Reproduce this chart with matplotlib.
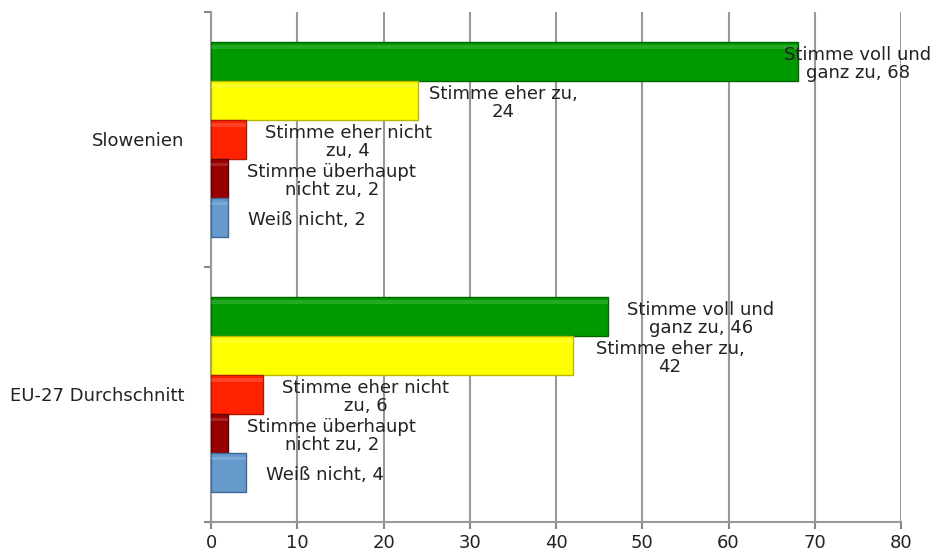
import matplotlib.pyplot as plt
import numpy as np

# data
groups = ["Slowenien", "EU-27 Durchschnitt"]
answers = ["Stimme voll und\nganz zu", "Stimme eher zu,\n", "Stimme eher nicht\nzu", "Stimme überhaupt\nnicht zu", "Weiß nicht"]
slowenien = [68, 24, 4, 2, 2]
eu27 = [46, 42, 6, 2, 4]
colors = ["#009a00", "#ffff00", "#ff2200", "#990000", "#6699cc"]
edges = ["#006600", "#b8b800", "#b31800", "#660000", "#3d6a99"]

# label centre x (data units), as placed in the original
label_x = [[75.0, 33.9, 15.9, 14.0, 11.1],
           [56.8, 53.2, 17.9, 14.0, 13.2]]


def label_text(i, v):
    if i == 1:
        return "Stimme eher zu,\n%d" % v
    if i == 4:
        return "Weiß nicht, %d" % v
    return "%s, %d" % (answers[i], v)


fig = plt.figure(figsize=(9.38, 5.53), dpi=100)
ax = fig.add_axes([0.225, 0.0561, 0.7356, 0.9222])

h = 0.153
values = [slowenien, eu27]
for g, vals in enumerate(values):
    for i, v in enumerate(vals):
        y = g + (i - 2) * h
        ax.barh(y, v, height=h, color=colors[i], edgecolor=edges[i],
                linewidth=1, zorder=3)
        # light bevel strip on top of the bar
        ax.barh(y - h * 0.36, v, height=h * 0.1, color="white", alpha=0.15,
                linewidth=0, zorder=4)
        ax.text(label_x[g][i], y + 0.01, label_text(i, v), ha="center",
                va="center", fontsize=13, color="#222222", zorder=5,
                linespacing=1.05)

ax.set_xlim(0, 80)
ax.set_ylim(1.5, -0.5)
ax.set_xticks(np.arange(0, 81, 10))
ax.set_yticks([0, 1])
ax.set_yticklabels(groups, fontsize=13, color="#222222")
ax.set_yticks([-0.5, 0.5, 1.5], minor=True)
ax.tick_params(axis="y", which="major", length=0, pad=19)
ax.tick_params(axis="y", which="minor", length=5, color="#888888", width=1.5)
ax.tick_params(axis="x", length=5, color="#888888", width=1.5, labelsize=13,
               labelcolor="#222222")
ax.xaxis.grid(True, color="#999999", linewidth=1.5, zorder=0)
for s in ["top", "right"]:
    ax.spines[s].set_visible(False)
for s in ["left", "bottom"]:
    ax.spines[s].set_color("#999999")
    ax.spines[s].set_linewidth(1.5)

fig.savefig("out.png", dpi=100)
